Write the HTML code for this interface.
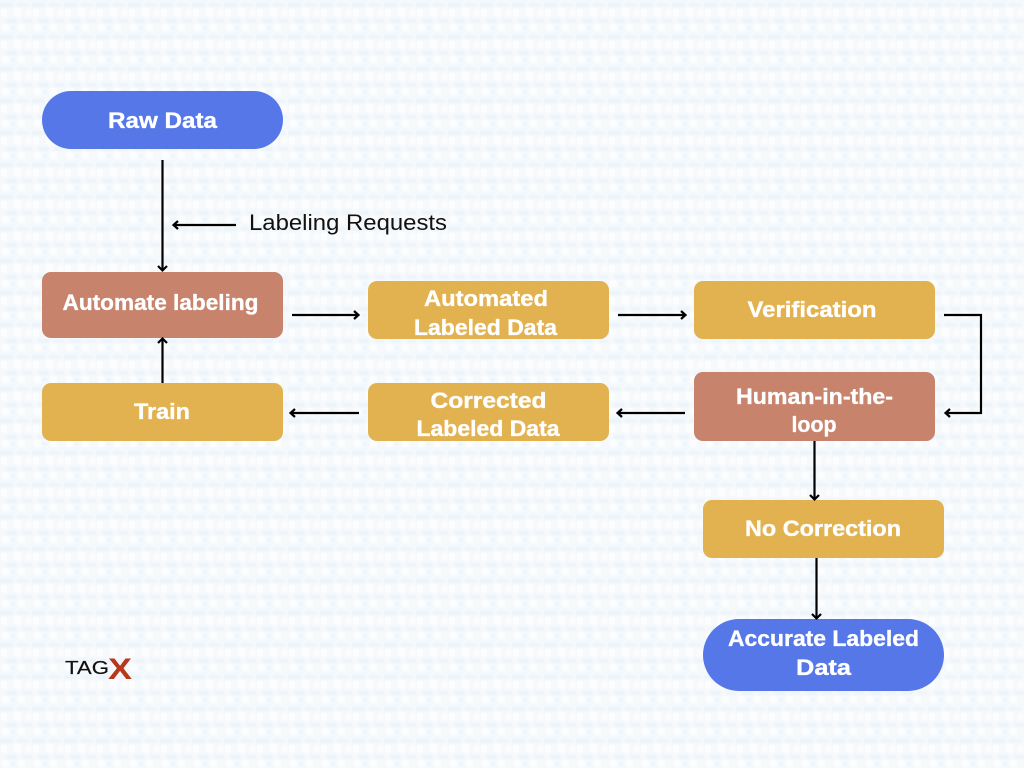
<!DOCTYPE html>
<html lang="en">
<head>
<meta charset="utf-8">
<title>Automated labeling flow</title>
<style>
html,body{margin:0;padding:0;width:1024px;height:768px;overflow:hidden;background:#f6f9fc}
svg{display:block}
.t{font-family:"Liberation Sans",sans-serif;font-weight:700;font-size:22px;fill:#fff;stroke:#fff;stroke-width:.35;text-anchor:middle}
.l{stroke:#000;stroke-width:2.2;fill:none}
.h{stroke:#000;stroke-width:2.2;fill:none}
</style>
</head>
<body>
<svg width="1024" height="768" viewBox="0 0 1024 768" xmlns="http://www.w3.org/2000/svg">
<defs>
<pattern id="w" width="32" height="32" patternUnits="userSpaceOnUse">
<rect width="32" height="32" fill="#f5f9fc"/>
<rect x="0" y="3" width="13" height="4" fill="#ebf5fb"/>
<rect x="17" y="3" width="12" height="4" fill="#eef6fb"/>
<rect x="6" y="19" width="11" height="4" fill="#ebf5fb"/>
<rect x="22" y="19" width="10" height="4" fill="#eff6fb"/>
<rect x="14" y="8" width="7" height="9" fill="#fdfdfe"/>
<rect x="1" y="9" width="6" height="8" fill="#fcfdfe"/>
<rect x="26" y="9" width="5" height="7" fill="#fbfcfe"/>
<rect x="18" y="24" width="7" height="7" fill="#fdfdfe"/>
<rect x="2" y="24" width="7" height="7" fill="#fcfdfe"/>
<rect x="10" y="26" width="5" height="3" fill="#edf5fb"/>
</pattern>
<filter id="b" x="0" y="0" width="100%" height="100%"><feGaussianBlur stdDeviation="0.9"/></filter>
</defs>
<rect width="1024" height="768" fill="url(#w)" filter="url(#b)"/>

<!-- nodes -->
<rect x="42" y="91" width="241" height="58" rx="29" fill="#5577e8"/>
<rect x="42" y="272" width="241" height="66" rx="9" fill="#c7836c"/>
<rect x="368" y="281" width="241" height="58" rx="9" fill="#e3b250"/>
<rect x="694" y="281" width="241" height="58" rx="9" fill="#e3b250"/>
<rect x="694" y="372" width="241" height="69" rx="9" fill="#c7836c"/>
<rect x="368" y="383" width="241" height="58" rx="9" fill="#e3b250"/>
<rect x="42" y="383" width="241" height="58" rx="9" fill="#e3b250"/>
<rect x="703" y="500" width="241" height="58" rx="9" fill="#e3b250"/>
<rect x="703" y="619" width="241" height="72" rx="36" fill="#5577e8"/>

<!-- labels -->
<text class="t" x="162.500" y="128" textLength="109" lengthAdjust="spacingAndGlyphs">Raw Data</text>
<text class="t" x="160.500" y="310" textLength="196" lengthAdjust="spacingAndGlyphs">Automate labeling</text>
<text class="t" x="486" y="306" textLength="124" lengthAdjust="spacingAndGlyphs">Automated</text>
<text class="t" x="485.500" y="335" textLength="143" lengthAdjust="spacingAndGlyphs">Labeled Data</text>
<text class="t" x="812" y="317" textLength="129" lengthAdjust="spacingAndGlyphs">Verification</text>
<text class="t" x="814.500" y="404" textLength="157" lengthAdjust="spacingAndGlyphs">Human-in-the-</text>
<text class="t" x="814" y="432" textLength="45" lengthAdjust="spacingAndGlyphs">loop</text>
<text class="t" x="488.500" y="408" textLength="116" lengthAdjust="spacingAndGlyphs">Corrected</text>
<text class="t" x="488" y="436" textLength="143" lengthAdjust="spacingAndGlyphs">Labeled Data</text>
<text class="t" x="162" y="419" textLength="56" lengthAdjust="spacingAndGlyphs">Train</text>
<text class="t" x="823" y="536" textLength="156" lengthAdjust="spacingAndGlyphs">No Correction</text>
<text class="t" x="823.500" y="646" textLength="191" lengthAdjust="spacingAndGlyphs">Accurate Labeled</text>
<text class="t" x="823.500" y="675" textLength="55" lengthAdjust="spacingAndGlyphs">Data</text>

<text x="249" y="230" font-family="'Liberation Sans',sans-serif" font-size="22" fill="#111" textLength="198" lengthAdjust="spacingAndGlyphs">Labeling Requests</text>

<!-- connectors -->
<path class="l" d="M162.500 160V270"/><path class="h" d="M158 266l4.500 4.500 4.500-4.500"/>
<path class="l" d="M236 225H174"/><path class="h" d="M178 221l-4.500 4 4.500 4"/>
<path class="l" d="M292 315H358"/><path class="h" d="M354 311l4.500 4-4.500 4"/>
<path class="l" d="M618 315H685"/><path class="h" d="M681 311l4.500 4-4.500 4"/>
<path class="l" d="M944 315H981V413H946"/><path class="h" d="M950 409l-4.500 4 4.500 4"/>
<path class="l" d="M685 413H618"/><path class="h" d="M622 409l-4.500 4 4.500 4"/>
<path class="l" d="M359 413H291"/><path class="h" d="M295 409l-4.500 4 4.500 4"/>
<path class="l" d="M162.500 383V339"/><path class="h" d="M158 343l4.500-4.500 4.500 4.500"/>
<path class="l" d="M814.500 441V499"/><path class="h" d="M810 495l4.500 4.500 4.500-4.500"/>
<path class="l" d="M816.500 558V618"/><path class="h" d="M812 614l4.500 4.500 4.500-4.500"/>

<!-- logo -->
<text x="65" y="674" font-family="'Liberation Sans',sans-serif" font-size="18" fill="#111" stroke="#111" stroke-width=".2" textLength="44" lengthAdjust="spacingAndGlyphs">TAG</text>
<text x="108" y="679" font-family="'Liberation Sans',sans-serif" font-weight="700" font-size="30" fill="#b5391a" textLength="24" lengthAdjust="spacingAndGlyphs">X</text>
</svg>
</body>
</html>
